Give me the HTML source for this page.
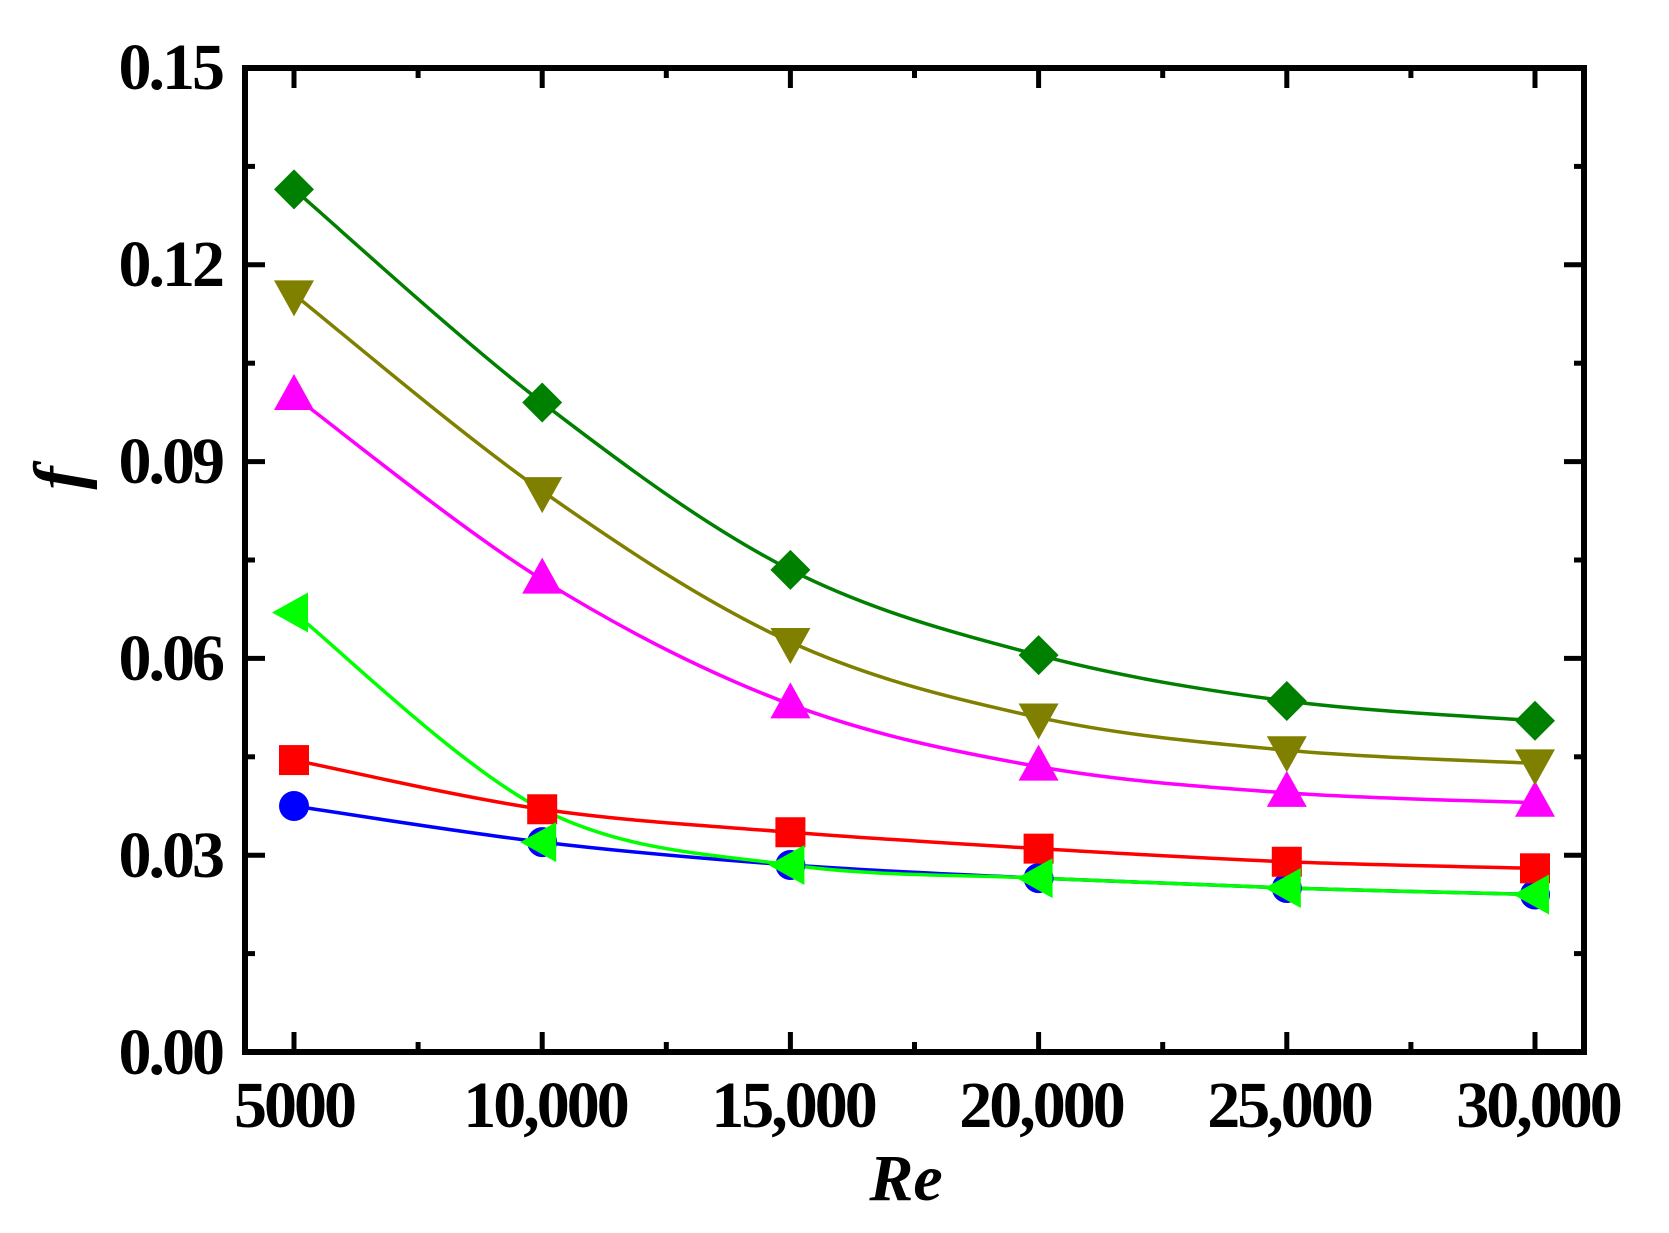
<!DOCTYPE html>
<html><head><meta charset="utf-8"><style>
html,body{margin:0;padding:0;background:#fff;}
svg{display:block;}
text{font-family:"Liberation Serif",serif;font-weight:bold;}
.t{letter-spacing:-3px;}
</style></head><body>
<svg id="s" width="1669" height="1233" viewBox="0 0 1669 1233" xmlns="http://www.w3.org/2000/svg">
<g id="ticks" stroke="#000" stroke-width="5"></g>
<g id="series"></g>
<rect x="245" y="68" width="1339" height="984" fill="none" stroke="#000" stroke-width="6"/>
<g font-size="66" text-anchor="end" class="t">
<text x="222" y="89">0.15</text>
<text x="222" y="286">0.12</text>
<text x="222" y="483">0.09</text>
<text x="222" y="680">0.06</text>
<text x="222" y="877">0.03</text>
<text x="222" y="1074">0.00</text>
</g>
<g font-size="66" text-anchor="middle" class="t">
<text x="294" y="1127">5000</text>
<text x="545" y="1127">10,000</text>
<text x="793" y="1127">15,000</text>
<text x="1041" y="1127">20,000</text>
<text x="1289" y="1127">25,000</text>
<text x="1538" y="1127">30,000</text>
</g>
<text x="906" y="1200" font-size="66" font-style="italic" text-anchor="middle">Re</text>
<text transform="translate(82,478) rotate(-90)" font-size="70" font-style="italic" text-anchor="middle">f</text>
</svg>
<script>
var NS="http://www.w3.org/2000/svg";
function X(r){return 294+(r-5000)/5000*248.2;}
function Y(v){return 1052-v*6560;}
var t=document.getElementById('ticks');
function ln(x1,y1,x2,y2){var l=document.createElementNS(NS,'line');l.setAttribute('x1',x1);l.setAttribute('y1',y1);l.setAttribute('x2',x2);l.setAttribute('y2',y2);t.appendChild(l);}
for(var r=5000;r<=30000;r+=2500){var x=X(r),L=(r%5000==0)?20:10;ln(x,1052,x,1052-L);ln(x,68,x,68+L);}
for(var i=1;i<10;i++){var v=i*0.015,y=Y(v),L=(i%2==0)?20:10;ln(245,y,245+L,y);ln(1584,y,1584-L,y);}
var res=[5000,10000,15000,20000,25000,30000];
var S=[
{c:'#0000ff',m:'circle',d:[0.0375,0.032,0.0285,0.0265,0.025,0.024]},
{c:'#ff0000',m:'square',d:[0.0445,0.037,0.0335,0.031,0.029,0.028]},
{c:'#ff00ff',m:'up',d:[0.100,0.072,0.053,0.0435,0.0395,0.038]},
{c:'#808000',m:'down',d:[0.1155,0.0855,0.0625,0.051,0.046,0.044]},
{c:'#008000',m:'diamond',d:[0.1315,0.099,0.0735,0.0605,0.0535,0.0505]},
{c:'#00ff00',m:'left',d:[0.067,0.032,0.0285,0.0265,0.025,0.024],cd:[0.067,0.037,0.0285,0.0265,0.025,0.024]}
];
var g=document.getElementById('series');
function el(n,a){var e=document.createElementNS(NS,n);for(var k in a)e.setAttribute(k,a[k]);g.appendChild(e);return e;}
S.forEach(function(s){
 var cd=s.cd||s.d;var P=res.map(function(r,i){return [X(r),Y(cd[i])];});
 var d='M'+P[0][0]+','+P[0][1];
 for(var i=0;i<P.length-1;i++){var p0=P[Math.max(0,i-1)],p1=P[i],p2=P[i+1],p3=P[Math.min(P.length-1,i+2)];
  var c1=[p1[0]+(p2[0]-p0[0])/6,p1[1]+(p2[1]-p0[1])/6],c2=[p2[0]-(p3[0]-p1[0])/6,p2[1]-(p3[1]-p1[1])/6];
  d+=' C'+c1+' '+c2+' '+p2;}
 el('path',{d:d,fill:'none',stroke:s.c,'stroke-width':3.5});
});
S.forEach(function(s){
 res.forEach(function(r,i){var x=X(r),y=Y(s.d[i]);var f=s.c;
  if(s.m=='circle')el('circle',{cx:x,cy:y,r:15,fill:f});
  else if(s.m=='square')el('rect',{x:x-15,y:y-15,width:30,height:30,fill:f});
  else if(s.m=='up')el('polygon',{points:(x-20)+','+(y+14)+' '+(x+20)+','+(y+14)+' '+x+','+(y-22),fill:f});
  else if(s.m=='down')el('polygon',{points:(x-20)+','+(y-14)+' '+(x+20)+','+(y-14)+' '+x+','+(y+22),fill:f});
  else if(s.m=='diamond')el('polygon',{points:x+','+(y-20)+' '+(x+20)+','+y+' '+x+','+(y+20)+' '+(x-20)+','+y,fill:f});
  else if(s.m=='left')el('polygon',{points:(x+14)+','+(y-20)+' '+(x+14)+','+(y+20)+' '+(x-22)+','+y,fill:f});
 });
});
</script>
</body></html>
